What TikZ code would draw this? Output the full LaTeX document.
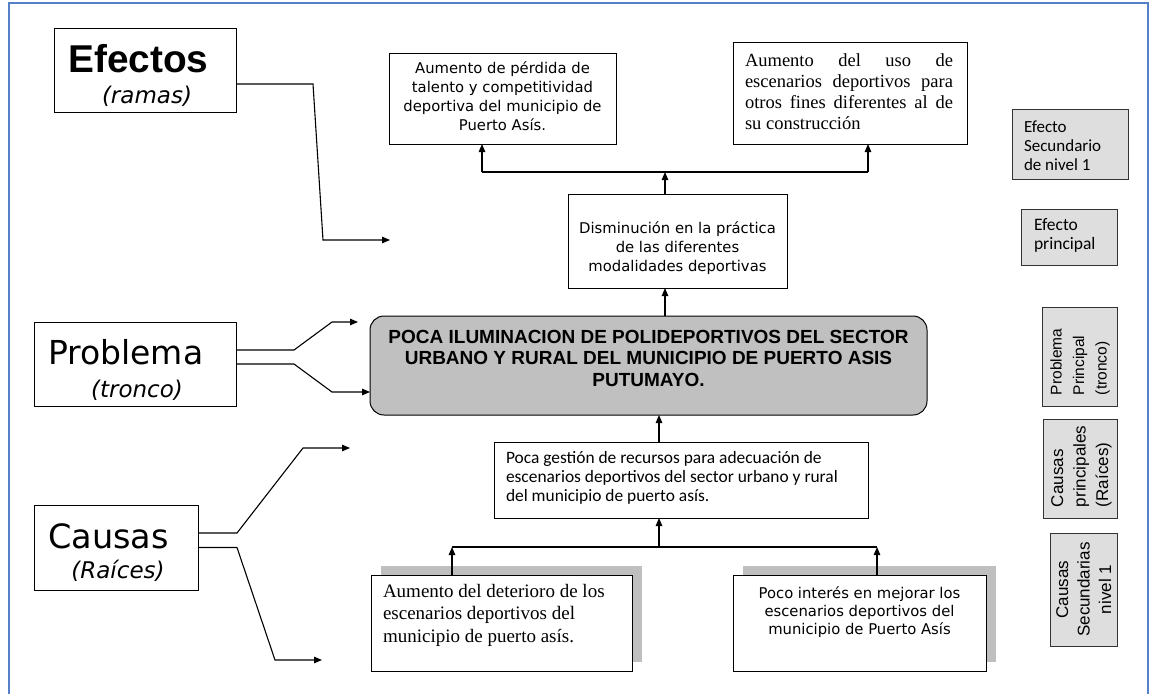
\documentclass[tikz,border=0pt]{standalone}
\usepackage{fontspec}
\setmainfont{DejaVu Sans}
\newfontfamily\lsans{Liberation Sans}
\newfontfamily\lserif{Liberation Serif}
\newfontfamily\carl{Carlito}
\usetikzlibrary{arrows.meta}
\definecolor{frameblue}{RGB}{84,130,200}
\definecolor{maingray}{RGB}{192,192,192}
\definecolor{leggray}{RGB}{222,222,222}
\definecolor{shadowgray}{RGB}{191,191,191}
\newcommand{\fs}[2]{\fontsize{#1pt}{#2pt}\selectfont}
\begin{document}
\begin{tikzpicture}[x=1pt,y=-1pt,
 box/.style={draw=black, line width=1pt, inner sep=0pt, outer sep=0pt, anchor=north west},
 legbox/.style={box, fill=leggray, draw=black!80},
 arr/.style={line width=1.1pt, -{Triangle[length=8pt,width=6.5pt]}},
 ln/.style={line width=1.1pt},
 lab/.style={inner sep=0pt, anchor=base west},
 labc/.style={inner sep=0pt, anchor=base}
]
\useasboundingbox (0,0) rectangle (1150,694);
\draw[frameblue, line width=2pt] (9,694) -- (9,3) -- (1148,3) -- (1148,694);

% left labels
\node[box, minimum width=182pt, minimum height=84pt] (efe) at (54,28) {};
\node[lab] (efeT) at (68,72) {\lsans\bfseries\fs{38.8}{40}Efectos};
\node[labc] (efeS) at (147,103) {\itshape\fs{23}{25}(ramas)};

\node[box, minimum width=202pt, minimum height=84pt] (pro) at (34,322) {};
\node[lab] (proT) at (48,364) {\fs{33}{35}Problema};
\node[labc] (proS) at (137,397) {\itshape\fs{23}{25}(tronco)};

\node[box, minimum width=164pt, minimum height=85pt] (cau) at (34,505) {};
\node[lab] (cauT) at (48,548) {\fs{33.5}{35}Causas};
\node[labc] (cauS) at (118,578) {\itshape\fs{23}{25}(Raíces)};

% effects
\node[box] (boxa) at (389,53) {\parbox[c][91pt][t]{227pt}{\vspace*{6.7pt}\centering\fs{14.8}{19}\strut Aumento de pérdida de\\ talento y competitividad\\ deportiva del municipio de\\ Puerto Asís.}};
\node[box] (boxb) at (733,42) {\parbox[c][102pt][t]{234pt}{\vspace*{9.3pt}\raggedright\leftskip=12pt \lserif\fs{18.5}{21}\strut\makebox[208pt][s]{Aumento del uso de}\\ \makebox[208pt][s]{escenarios deportivos para}\\ \makebox[208pt][s]{otros fines diferentes al de}\\ su construcción}};
\node[box] (dis) at (568,194) {\parbox[c][94pt][t]{219pt}{\vspace*{25.7pt}\centering\fs{14.8}{19}\strut Disminución en la práctica\\ de las diferentes\\ modalidades deportivas}};

% main problem
\node[box, fill=maingray, rounded corners=14pt] (main) at (370,316) {\parbox[c][99pt][t]{557pt}{\vspace*{12pt}\centering\lsans\bfseries\fs{19}{21.5}\strut POCA ILUMINACION DE POLIDEPORTIVOS DEL SECTOR\\ URBANO Y RURAL DEL MUNICIPIO DE PUERTO ASIS\\ PUTUMAYO.}};

% causes
\node[box] (ges) at (494,442) {\parbox[c][76pt][t]{374pt}{\vspace*{7.7pt}\raggedright\leftskip=12pt \carl\fs{17.4}{19}\strut Poca gestión de recursos para adecuación de\\ escenarios deportivos del sector urbano y rural\\ del municipio de puerto asís.}};

\fill[shadowgray] (381,566) rectangle (642,662);
\fill[shadowgray] (743,566) rectangle (996,662);
\node[box, fill=white] (boxc) at (371,575) {\parbox[c][96pt][t]{261pt}{\vspace*{6.25pt}\raggedright\leftskip=12pt \lserif\fs{19}{22.5}\strut Aumento del deterioro de los\\ escenarios deportivos del\\ municipio de puerto asís.}};
\node[box, fill=white] (boxd) at (733,575) {\parbox[c][96pt][t]{253pt}{\vspace*{10.4pt}\centering\fs{14.8}{18}\strut Poco interés en mejorar los\\ escenarios deportivos del\\ municipio de Puerto Asís}};

% legend
\node[legbox] (l1) at (1012,109) {\parbox[c][70pt][t]{116pt}{\vspace*{9.7pt}\raggedright\leftskip=12pt \carl\fs{17}{19}\strut Efecto\\ Secundario\\ de nivel 1}};
\node[legbox] (l2) at (1021,209) {\parbox[c][56pt][t]{96pt}{\vspace*{7.7pt}\raggedright\leftskip=13pt \carl\fs{17.5}{19}\strut Efecto\\ principal}};
\node[legbox, rotate=90, anchor=center] (l3) at (1079.5,356.5) {\parbox[c][75pt][t]{99pt}{\vspace*{3.75pt}\raggedright\leftskip=11pt \lsans\fs{15.5}{22.5}\strut Problema\\ Principal\\ (tronco)}};
\node[legbox, rotate=90, anchor=center] (l4) at (1080,468.5) {\parbox[c][74pt][t]{99pt}{\vspace*{4.25pt}\raggedright\leftskip=11pt \lsans\fs{17}{22.5}\strut Causas\\ principales\\ (Raíces)}};
\node[legbox, rotate=90, anchor=center] (l5) at (1083.5,589.5) {\parbox[c][67pt][t]{113pt}{\vspace*{3pt}\centering\lsans\fs{17}{21.5}\strut Causas\\ Secundarias\\ nivel 1}};

% connectors from left labels
\coordinate (ef1) at (390,240);
\draw[arr] ([yshift=-14pt]efe.east) -- ++(77,0) -- ++(10,156) -- (ef1);
\coordinate (pr1) at (358,322);
\draw[arr] ([yshift=14pt]pro.east) -- ++(58,0) -- ++(38,-28) -- (pr1);
\draw[arr] (pro.east) -- ++(58,0) -- ++(38,28) -- ([yshift=-26.5pt]main.west);
\coordinate (ca1) at (350,448);
\coordinate (ca2) at (322,660);
\draw[arr] ([yshift=14.5pt]cau.east) -- ++(39,0) -- ++(66,-85) -- (ca1);
\draw[arr] (cau.east) -- ++(39,0) -- ++(38,112.5) -- (ca2);

% tree connectors (top)
\coordinate (tA) at (482,172);
\coordinate (tB) at (868,172);
\coordinate (tM) at (665,172);
\draw[ln] (tA) -- (tB);
\draw[arr] (tA) -- (tA |- boxa.south);
\draw[arr] (tB) -- (tB |- boxb.south);
\draw[arr] (tM |- dis.north) -- (tM);
\draw[arr] (tM |- main.north) -- (tM |- dis.south);

% tree connectors (bottom)
\coordinate (gX) at (659,547);
\coordinate (bC) at (452,547);
\coordinate (bD) at (877,547);
\draw[arr] (gX |- ges.north) -- (gX |- main.south);
\draw[ln] (bC) -- (bD);
\draw[arr] (gX) -- (gX |- ges.south);
\draw[arr] (bC |- boxc.north) -- (bC);
\draw[arr] (bD |- boxd.north) -- (bD);
\end{tikzpicture}
\end{document}
